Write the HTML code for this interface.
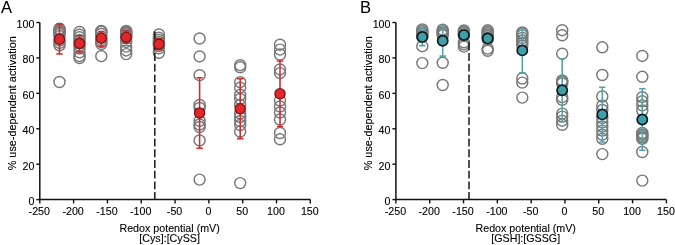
<!DOCTYPE html>
<html><head><meta charset="utf-8"><style>
html,body{margin:0;padding:0;background:#fff;}
svg{display:block;filter:blur(0.3px);}
text{font-family:"Liberation Sans",sans-serif;font-size:10px;fill:#000;stroke:#000;stroke-width:0.1px;}
</style></head><body>
<svg width="675" height="245" viewBox="0 0 675 245">
<rect width="675" height="245" fill="#fff"/>
<path d="M39.80,22.50V199.60H310.30" fill="none" stroke="#111" stroke-width="1.5"/>
<line x1="36.30" y1="199.60" x2="39.80" y2="199.60" stroke="#111" stroke-width="1.4"/>
<text transform="translate(34.40,205.00) scale(1.07,1)" text-anchor="end">0</text>
<line x1="36.30" y1="164.18" x2="39.80" y2="164.18" stroke="#111" stroke-width="1.4"/>
<text transform="translate(34.40,169.58) scale(1.07,1)" text-anchor="end">20</text>
<line x1="36.30" y1="128.76" x2="39.80" y2="128.76" stroke="#111" stroke-width="1.4"/>
<text transform="translate(34.40,134.16) scale(1.07,1)" text-anchor="end">40</text>
<line x1="36.30" y1="93.34" x2="39.80" y2="93.34" stroke="#111" stroke-width="1.4"/>
<text transform="translate(34.40,98.74) scale(1.07,1)" text-anchor="end">60</text>
<line x1="36.30" y1="57.92" x2="39.80" y2="57.92" stroke="#111" stroke-width="1.4"/>
<text transform="translate(34.40,63.32) scale(1.07,1)" text-anchor="end">80</text>
<line x1="36.30" y1="22.50" x2="39.80" y2="22.50" stroke="#111" stroke-width="1.4"/>
<text transform="translate(34.40,27.90) scale(1.07,1)" text-anchor="end">100</text>
<line x1="39.80" y1="199.60" x2="39.80" y2="203.40" stroke="#111" stroke-width="1.4"/>
<text transform="translate(39.30,214.70) scale(1.07,1)" text-anchor="middle">-250</text>
<line x1="73.61" y1="199.60" x2="73.61" y2="203.40" stroke="#111" stroke-width="1.4"/>
<text transform="translate(73.11,214.70) scale(1.07,1)" text-anchor="middle">-200</text>
<line x1="107.42" y1="199.60" x2="107.42" y2="203.40" stroke="#111" stroke-width="1.4"/>
<text transform="translate(106.92,214.70) scale(1.07,1)" text-anchor="middle">-150</text>
<line x1="141.24" y1="199.60" x2="141.24" y2="203.40" stroke="#111" stroke-width="1.4"/>
<text transform="translate(140.74,214.70) scale(1.07,1)" text-anchor="middle">-100</text>
<line x1="175.05" y1="199.60" x2="175.05" y2="203.40" stroke="#111" stroke-width="1.4"/>
<text transform="translate(174.55,214.70) scale(1.07,1)" text-anchor="middle">-50</text>
<line x1="208.86" y1="199.60" x2="208.86" y2="203.40" stroke="#111" stroke-width="1.4"/>
<text transform="translate(208.36,214.70) scale(1.07,1)" text-anchor="middle">0</text>
<line x1="242.68" y1="199.60" x2="242.68" y2="203.40" stroke="#111" stroke-width="1.4"/>
<text transform="translate(242.18,214.70) scale(1.07,1)" text-anchor="middle">50</text>
<line x1="276.49" y1="199.60" x2="276.49" y2="203.40" stroke="#111" stroke-width="1.4"/>
<text transform="translate(275.99,214.70) scale(1.07,1)" text-anchor="middle">100</text>
<line x1="310.30" y1="199.60" x2="310.30" y2="203.40" stroke="#111" stroke-width="1.4"/>
<text transform="translate(309.80,214.70) scale(1.07,1)" text-anchor="middle">150</text>
<circle cx="59.5" cy="28.7" r="5.5" fill="none" stroke="#787878" stroke-width="1.45"/>
<circle cx="59.5" cy="29.5" r="5.5" fill="none" stroke="#787878" stroke-width="1.45"/>
<circle cx="59.5" cy="30.4" r="5.5" fill="none" stroke="#787878" stroke-width="1.45"/>
<circle cx="59.5" cy="31.4" r="5.5" fill="none" stroke="#787878" stroke-width="1.45"/>
<circle cx="59.5" cy="32.6" r="5.5" fill="none" stroke="#787878" stroke-width="1.45"/>
<circle cx="59.5" cy="34" r="5.5" fill="none" stroke="#787878" stroke-width="1.45"/>
<circle cx="59.5" cy="36" r="5.5" fill="none" stroke="#787878" stroke-width="1.45"/>
<circle cx="59.5" cy="40.4" r="5.5" fill="none" stroke="#787878" stroke-width="1.45"/>
<circle cx="59.5" cy="42.9" r="5.5" fill="none" stroke="#787878" stroke-width="1.45"/>
<circle cx="59.5" cy="45.3" r="5.5" fill="none" stroke="#787878" stroke-width="1.45"/>
<circle cx="59.5" cy="82" r="5.5" fill="none" stroke="#787878" stroke-width="1.45"/>
<circle cx="79.5" cy="32" r="5.5" fill="none" stroke="#787878" stroke-width="1.45"/>
<circle cx="79.5" cy="34.7" r="5.5" fill="none" stroke="#787878" stroke-width="1.45"/>
<circle cx="79.5" cy="37.2" r="5.5" fill="none" stroke="#787878" stroke-width="1.45"/>
<circle cx="79.5" cy="40" r="5.5" fill="none" stroke="#787878" stroke-width="1.45"/>
<circle cx="79.5" cy="43" r="5.5" fill="none" stroke="#787878" stroke-width="1.45"/>
<circle cx="79.5" cy="45.5" r="5.5" fill="none" stroke="#787878" stroke-width="1.45"/>
<circle cx="79.5" cy="48.5" r="5.5" fill="none" stroke="#787878" stroke-width="1.45"/>
<circle cx="79.5" cy="52.3" r="5.5" fill="none" stroke="#787878" stroke-width="1.45"/>
<circle cx="79.5" cy="56" r="5.5" fill="none" stroke="#787878" stroke-width="1.45"/>
<circle cx="79.5" cy="58" r="5.5" fill="none" stroke="#787878" stroke-width="1.45"/>
<circle cx="101.3" cy="30.9" r="5.5" fill="none" stroke="#787878" stroke-width="1.45"/>
<circle cx="101.3" cy="31.8" r="5.5" fill="none" stroke="#787878" stroke-width="1.45"/>
<circle cx="101.3" cy="34" r="5.5" fill="none" stroke="#787878" stroke-width="1.45"/>
<circle cx="101.3" cy="37" r="5.5" fill="none" stroke="#787878" stroke-width="1.45"/>
<circle cx="101.3" cy="40" r="5.5" fill="none" stroke="#787878" stroke-width="1.45"/>
<circle cx="101.3" cy="42" r="5.5" fill="none" stroke="#787878" stroke-width="1.45"/>
<circle cx="101.3" cy="44" r="5.5" fill="none" stroke="#787878" stroke-width="1.45"/>
<circle cx="101.3" cy="56.2" r="5.5" fill="none" stroke="#787878" stroke-width="1.45"/>
<circle cx="126.2" cy="30.9" r="5.5" fill="none" stroke="#787878" stroke-width="1.45"/>
<circle cx="126.2" cy="31.6" r="5.5" fill="none" stroke="#787878" stroke-width="1.45"/>
<circle cx="126.2" cy="32.4" r="5.5" fill="none" stroke="#787878" stroke-width="1.45"/>
<circle cx="126.2" cy="33.3" r="5.5" fill="none" stroke="#787878" stroke-width="1.45"/>
<circle cx="126.2" cy="34.5" r="5.5" fill="none" stroke="#787878" stroke-width="1.45"/>
<circle cx="126.2" cy="36" r="5.5" fill="none" stroke="#787878" stroke-width="1.45"/>
<circle cx="126.2" cy="38" r="5.5" fill="none" stroke="#787878" stroke-width="1.45"/>
<circle cx="126.2" cy="41.9" r="5.5" fill="none" stroke="#787878" stroke-width="1.45"/>
<circle cx="126.2" cy="46.6" r="5.5" fill="none" stroke="#787878" stroke-width="1.45"/>
<circle cx="126.2" cy="50.4" r="5.5" fill="none" stroke="#787878" stroke-width="1.45"/>
<circle cx="126.2" cy="54.1" r="5.5" fill="none" stroke="#787878" stroke-width="1.45"/>
<circle cx="158.9" cy="34.5" r="5.5" fill="none" stroke="#787878" stroke-width="1.45"/>
<circle cx="158.9" cy="37.8" r="5.5" fill="none" stroke="#787878" stroke-width="1.45"/>
<circle cx="158.9" cy="40" r="5.5" fill="none" stroke="#787878" stroke-width="1.45"/>
<circle cx="158.9" cy="42" r="5.5" fill="none" stroke="#787878" stroke-width="1.45"/>
<circle cx="158.9" cy="44" r="5.5" fill="none" stroke="#787878" stroke-width="1.45"/>
<circle cx="158.9" cy="46" r="5.5" fill="none" stroke="#787878" stroke-width="1.45"/>
<circle cx="158.9" cy="48.3" r="5.5" fill="none" stroke="#787878" stroke-width="1.45"/>
<circle cx="158.9" cy="52.8" r="5.5" fill="none" stroke="#787878" stroke-width="1.45"/>
<circle cx="199.6" cy="38.5" r="5.5" fill="none" stroke="#787878" stroke-width="1.45"/>
<circle cx="199.6" cy="56.4" r="5.5" fill="none" stroke="#787878" stroke-width="1.45"/>
<circle cx="199.6" cy="75.2" r="5.5" fill="none" stroke="#787878" stroke-width="1.45"/>
<circle cx="199.6" cy="105" r="5.5" fill="none" stroke="#787878" stroke-width="1.45"/>
<circle cx="199.6" cy="108" r="5.5" fill="none" stroke="#787878" stroke-width="1.45"/>
<circle cx="199.6" cy="120.8" r="5.5" fill="none" stroke="#787878" stroke-width="1.45"/>
<circle cx="199.6" cy="124.5" r="5.5" fill="none" stroke="#787878" stroke-width="1.45"/>
<circle cx="199.6" cy="127" r="5.5" fill="none" stroke="#787878" stroke-width="1.45"/>
<circle cx="199.6" cy="140.4" r="5.5" fill="none" stroke="#787878" stroke-width="1.45"/>
<circle cx="199.6" cy="179.6" r="5.5" fill="none" stroke="#787878" stroke-width="1.45"/>
<circle cx="240.2" cy="65.2" r="5.5" fill="none" stroke="#787878" stroke-width="1.45"/>
<circle cx="240.2" cy="67.3" r="5.5" fill="none" stroke="#787878" stroke-width="1.45"/>
<circle cx="240.2" cy="82.2" r="5.5" fill="none" stroke="#787878" stroke-width="1.45"/>
<circle cx="240.2" cy="87.7" r="5.5" fill="none" stroke="#787878" stroke-width="1.45"/>
<circle cx="240.2" cy="94.8" r="5.5" fill="none" stroke="#787878" stroke-width="1.45"/>
<circle cx="240.2" cy="98.9" r="5.5" fill="none" stroke="#787878" stroke-width="1.45"/>
<circle cx="240.2" cy="105" r="5.5" fill="none" stroke="#787878" stroke-width="1.45"/>
<circle cx="240.2" cy="113.4" r="5.5" fill="none" stroke="#787878" stroke-width="1.45"/>
<circle cx="240.2" cy="117" r="5.5" fill="none" stroke="#787878" stroke-width="1.45"/>
<circle cx="240.2" cy="121" r="5.5" fill="none" stroke="#787878" stroke-width="1.45"/>
<circle cx="240.2" cy="125" r="5.5" fill="none" stroke="#787878" stroke-width="1.45"/>
<circle cx="240.2" cy="131.5" r="5.5" fill="none" stroke="#787878" stroke-width="1.45"/>
<circle cx="240.2" cy="183.1" r="5.5" fill="none" stroke="#787878" stroke-width="1.45"/>
<circle cx="280.0" cy="44.7" r="5.5" fill="none" stroke="#787878" stroke-width="1.45"/>
<circle cx="280.0" cy="49.6" r="5.5" fill="none" stroke="#787878" stroke-width="1.45"/>
<circle cx="280.0" cy="54.5" r="5.5" fill="none" stroke="#787878" stroke-width="1.45"/>
<circle cx="280.0" cy="69.4" r="5.5" fill="none" stroke="#787878" stroke-width="1.45"/>
<circle cx="280.0" cy="73.1" r="5.5" fill="none" stroke="#787878" stroke-width="1.45"/>
<circle cx="280.0" cy="100.5" r="5.5" fill="none" stroke="#787878" stroke-width="1.45"/>
<circle cx="280.0" cy="106.5" r="5.5" fill="none" stroke="#787878" stroke-width="1.45"/>
<circle cx="280.0" cy="112.5" r="5.5" fill="none" stroke="#787878" stroke-width="1.45"/>
<circle cx="280.0" cy="119.5" r="5.5" fill="none" stroke="#787878" stroke-width="1.45"/>
<circle cx="280.0" cy="133" r="5.5" fill="none" stroke="#787878" stroke-width="1.45"/>
<circle cx="280.0" cy="139.3" r="5.5" fill="none" stroke="#787878" stroke-width="1.45"/>
<line x1="154.80" y1="199.60" x2="154.80" y2="31.30" stroke="#1a1a1a" stroke-width="1.5" stroke-dasharray="7.9 2.8" stroke-dashoffset="0.4"/>
<path d="M59.5,24.0V53.9M56.3,24.0H62.7M56.3,53.9H62.7" stroke="#cf2a2a" stroke-width="1.55" fill="none"/>
<circle cx="59.5" cy="39.3" r="5.1" fill="#e3262b" stroke="#7a1414" stroke-width="1.3"/>
<path d="M79.5,35.8V52.0M76.3,35.8H82.7M76.3,52.0H82.7" stroke="#cf2a2a" stroke-width="1.55" fill="none"/>
<circle cx="79.5" cy="43.4" r="5.1" fill="#e3262b" stroke="#7a1414" stroke-width="1.3"/>
<path d="M101.3,31.6V46.5M98.1,31.6H104.5M98.1,46.5H104.5" stroke="#cf2a2a" stroke-width="1.55" fill="none"/>
<circle cx="101.3" cy="38.2" r="5.1" fill="#e3262b" stroke="#7a1414" stroke-width="1.3"/>
<path d="M126.2,31.0V43.3M123.0,31.0H129.4M123.0,43.3H129.4" stroke="#cf2a2a" stroke-width="1.55" fill="none"/>
<circle cx="126.2" cy="37.2" r="5.1" fill="#e3262b" stroke="#7a1414" stroke-width="1.3"/>
<path d="M158.9,38.5V49.7M155.70000000000002,38.5H162.1M155.70000000000002,49.7H162.1" stroke="#cf2a2a" stroke-width="1.55" fill="none"/>
<circle cx="158.9" cy="44.1" r="5.1" fill="#e3262b" stroke="#7a1414" stroke-width="1.3"/>
<path d="M199.6,77.8V148.3M196.4,77.8H202.79999999999998M196.4,148.3H202.79999999999998" stroke="#cf2a2a" stroke-width="1.55" fill="none"/>
<circle cx="199.6" cy="112.9" r="5.1" fill="#e3262b" stroke="#7a1414" stroke-width="1.3"/>
<path d="M240.2,78.8V138.6M237.0,78.8H243.39999999999998M237.0,138.6H243.39999999999998" stroke="#cf2a2a" stroke-width="1.55" fill="none"/>
<circle cx="240.2" cy="108.8" r="5.1" fill="#e3262b" stroke="#7a1414" stroke-width="1.3"/>
<path d="M280.0,61.0V126.4M276.8,61.0H283.2M276.8,126.4H283.2" stroke="#cf2a2a" stroke-width="1.55" fill="none"/>
<circle cx="280.0" cy="93.8" r="5.1" fill="#e3262b" stroke="#7a1414" stroke-width="1.3"/>
<text transform="translate(15.80,103.30) rotate(-90) scale(1.087,1)" text-anchor="middle">% use-dependent activation</text>
<text transform="translate(169.60,231.8) scale(1.07,1)" text-anchor="middle">Redox potential (mV)</text>
<text transform="translate(169.60,241.8) scale(1.07,1)" text-anchor="middle">[Cys]:[CySS]</text>
<text transform="translate(1.0,12.5) scale(1.0,1)" style="font-size:16.5px">A</text>
<path d="M395.90,22.50V199.60H666.40" fill="none" stroke="#111" stroke-width="1.5"/>
<line x1="392.40" y1="199.60" x2="395.90" y2="199.60" stroke="#111" stroke-width="1.4"/>
<text transform="translate(390.50,205.00) scale(1.07,1)" text-anchor="end">0</text>
<line x1="392.40" y1="164.18" x2="395.90" y2="164.18" stroke="#111" stroke-width="1.4"/>
<text transform="translate(390.50,169.58) scale(1.07,1)" text-anchor="end">20</text>
<line x1="392.40" y1="128.76" x2="395.90" y2="128.76" stroke="#111" stroke-width="1.4"/>
<text transform="translate(390.50,134.16) scale(1.07,1)" text-anchor="end">40</text>
<line x1="392.40" y1="93.34" x2="395.90" y2="93.34" stroke="#111" stroke-width="1.4"/>
<text transform="translate(390.50,98.74) scale(1.07,1)" text-anchor="end">60</text>
<line x1="392.40" y1="57.92" x2="395.90" y2="57.92" stroke="#111" stroke-width="1.4"/>
<text transform="translate(390.50,63.32) scale(1.07,1)" text-anchor="end">80</text>
<line x1="392.40" y1="22.50" x2="395.90" y2="22.50" stroke="#111" stroke-width="1.4"/>
<text transform="translate(390.50,27.90) scale(1.07,1)" text-anchor="end">100</text>
<line x1="395.90" y1="199.60" x2="395.90" y2="203.40" stroke="#111" stroke-width="1.4"/>
<text transform="translate(395.40,214.70) scale(1.07,1)" text-anchor="middle">-250</text>
<line x1="429.71" y1="199.60" x2="429.71" y2="203.40" stroke="#111" stroke-width="1.4"/>
<text transform="translate(429.21,214.70) scale(1.07,1)" text-anchor="middle">-200</text>
<line x1="463.52" y1="199.60" x2="463.52" y2="203.40" stroke="#111" stroke-width="1.4"/>
<text transform="translate(463.02,214.70) scale(1.07,1)" text-anchor="middle">-150</text>
<line x1="497.34" y1="199.60" x2="497.34" y2="203.40" stroke="#111" stroke-width="1.4"/>
<text transform="translate(496.84,214.70) scale(1.07,1)" text-anchor="middle">-100</text>
<line x1="531.15" y1="199.60" x2="531.15" y2="203.40" stroke="#111" stroke-width="1.4"/>
<text transform="translate(530.65,214.70) scale(1.07,1)" text-anchor="middle">-50</text>
<line x1="564.96" y1="199.60" x2="564.96" y2="203.40" stroke="#111" stroke-width="1.4"/>
<text transform="translate(564.46,214.70) scale(1.07,1)" text-anchor="middle">0</text>
<line x1="598.77" y1="199.60" x2="598.77" y2="203.40" stroke="#111" stroke-width="1.4"/>
<text transform="translate(598.27,214.70) scale(1.07,1)" text-anchor="middle">50</text>
<line x1="632.59" y1="199.60" x2="632.59" y2="203.40" stroke="#111" stroke-width="1.4"/>
<text transform="translate(632.09,214.70) scale(1.07,1)" text-anchor="middle">100</text>
<line x1="666.40" y1="199.60" x2="666.40" y2="203.40" stroke="#111" stroke-width="1.4"/>
<text transform="translate(665.90,214.70) scale(1.07,1)" text-anchor="middle">150</text>
<circle cx="422.3" cy="29.5" r="5.5" fill="none" stroke="#787878" stroke-width="1.45"/>
<circle cx="422.3" cy="31.0" r="5.5" fill="none" stroke="#787878" stroke-width="1.45"/>
<circle cx="422.3" cy="32.5" r="5.5" fill="none" stroke="#787878" stroke-width="1.45"/>
<circle cx="422.3" cy="34.0" r="5.5" fill="none" stroke="#787878" stroke-width="1.45"/>
<circle cx="422.3" cy="35.5" r="5.5" fill="none" stroke="#787878" stroke-width="1.45"/>
<circle cx="422.3" cy="37.0" r="5.5" fill="none" stroke="#787878" stroke-width="1.45"/>
<circle cx="422.3" cy="46.2" r="5.5" fill="none" stroke="#787878" stroke-width="1.45"/>
<circle cx="422.3" cy="63.1" r="5.5" fill="none" stroke="#787878" stroke-width="1.45"/>
<circle cx="442.7" cy="29.7" r="5.5" fill="none" stroke="#787878" stroke-width="1.45"/>
<circle cx="442.7" cy="31.1" r="5.5" fill="none" stroke="#787878" stroke-width="1.45"/>
<circle cx="442.7" cy="32.5" r="5.5" fill="none" stroke="#787878" stroke-width="1.45"/>
<circle cx="442.7" cy="33.9" r="5.5" fill="none" stroke="#787878" stroke-width="1.45"/>
<circle cx="442.7" cy="35.3" r="5.5" fill="none" stroke="#787878" stroke-width="1.45"/>
<circle cx="442.7" cy="62.8" r="5.5" fill="none" stroke="#787878" stroke-width="1.45"/>
<circle cx="442.7" cy="85.0" r="5.5" fill="none" stroke="#787878" stroke-width="1.45"/>
<circle cx="463.9" cy="30.4" r="5.5" fill="none" stroke="#787878" stroke-width="1.45"/>
<circle cx="463.9" cy="31.8" r="5.5" fill="none" stroke="#787878" stroke-width="1.45"/>
<circle cx="463.9" cy="33.2" r="5.5" fill="none" stroke="#787878" stroke-width="1.45"/>
<circle cx="463.9" cy="34.6" r="5.5" fill="none" stroke="#787878" stroke-width="1.45"/>
<circle cx="463.9" cy="36.0" r="5.5" fill="none" stroke="#787878" stroke-width="1.45"/>
<circle cx="463.9" cy="42.3" r="5.5" fill="none" stroke="#787878" stroke-width="1.45"/>
<circle cx="463.9" cy="44.3" r="5.5" fill="none" stroke="#787878" stroke-width="1.45"/>
<circle cx="463.9" cy="46.6" r="5.5" fill="none" stroke="#787878" stroke-width="1.45"/>
<circle cx="487.7" cy="30.3" r="5.5" fill="none" stroke="#787878" stroke-width="1.45"/>
<circle cx="487.7" cy="31.8" r="5.5" fill="none" stroke="#787878" stroke-width="1.45"/>
<circle cx="487.7" cy="33.3" r="5.5" fill="none" stroke="#787878" stroke-width="1.45"/>
<circle cx="487.7" cy="34.8" r="5.5" fill="none" stroke="#787878" stroke-width="1.45"/>
<circle cx="487.7" cy="36.3" r="5.5" fill="none" stroke="#787878" stroke-width="1.45"/>
<circle cx="487.7" cy="37.8" r="5.5" fill="none" stroke="#787878" stroke-width="1.45"/>
<circle cx="487.7" cy="39.3" r="5.5" fill="none" stroke="#787878" stroke-width="1.45"/>
<circle cx="487.7" cy="48.6" r="5.5" fill="none" stroke="#787878" stroke-width="1.45"/>
<circle cx="487.7" cy="50.8" r="5.5" fill="none" stroke="#787878" stroke-width="1.45"/>
<circle cx="522.3" cy="32.4" r="5.5" fill="none" stroke="#787878" stroke-width="1.45"/>
<circle cx="522.3" cy="33.4" r="5.5" fill="none" stroke="#787878" stroke-width="1.45"/>
<circle cx="522.3" cy="35.5" r="5.5" fill="none" stroke="#787878" stroke-width="1.45"/>
<circle cx="522.3" cy="38" r="5.5" fill="none" stroke="#787878" stroke-width="1.45"/>
<circle cx="522.3" cy="40.5" r="5.5" fill="none" stroke="#787878" stroke-width="1.45"/>
<circle cx="522.3" cy="43" r="5.5" fill="none" stroke="#787878" stroke-width="1.45"/>
<circle cx="522.3" cy="45.5" r="5.5" fill="none" stroke="#787878" stroke-width="1.45"/>
<circle cx="522.3" cy="78.5" r="5.5" fill="none" stroke="#787878" stroke-width="1.45"/>
<circle cx="522.3" cy="82.6" r="5.5" fill="none" stroke="#787878" stroke-width="1.45"/>
<circle cx="522.3" cy="97.6" r="5.5" fill="none" stroke="#787878" stroke-width="1.45"/>
<circle cx="562.2" cy="30.2" r="5.5" fill="none" stroke="#787878" stroke-width="1.45"/>
<circle cx="562.2" cy="35.3" r="5.5" fill="none" stroke="#787878" stroke-width="1.45"/>
<circle cx="562.2" cy="53.7" r="5.5" fill="none" stroke="#787878" stroke-width="1.45"/>
<circle cx="562.2" cy="80.4" r="5.5" fill="none" stroke="#787878" stroke-width="1.45"/>
<circle cx="562.2" cy="82" r="5.5" fill="none" stroke="#787878" stroke-width="1.45"/>
<circle cx="562.2" cy="83.5" r="5.5" fill="none" stroke="#787878" stroke-width="1.45"/>
<circle cx="562.2" cy="97.2" r="5.5" fill="none" stroke="#787878" stroke-width="1.45"/>
<circle cx="562.2" cy="99.8" r="5.5" fill="none" stroke="#787878" stroke-width="1.45"/>
<circle cx="562.2" cy="113.6" r="5.5" fill="none" stroke="#787878" stroke-width="1.45"/>
<circle cx="562.2" cy="116.6" r="5.5" fill="none" stroke="#787878" stroke-width="1.45"/>
<circle cx="562.2" cy="120.7" r="5.5" fill="none" stroke="#787878" stroke-width="1.45"/>
<circle cx="562.2" cy="124.8" r="5.5" fill="none" stroke="#787878" stroke-width="1.45"/>
<circle cx="602.3" cy="47.3" r="5.5" fill="none" stroke="#787878" stroke-width="1.45"/>
<circle cx="602.3" cy="75" r="5.5" fill="none" stroke="#787878" stroke-width="1.45"/>
<circle cx="602.3" cy="96.5" r="5.5" fill="none" stroke="#787878" stroke-width="1.45"/>
<circle cx="602.3" cy="105.7" r="5.5" fill="none" stroke="#787878" stroke-width="1.45"/>
<circle cx="602.3" cy="110" r="5.5" fill="none" stroke="#787878" stroke-width="1.45"/>
<circle cx="602.3" cy="118" r="5.5" fill="none" stroke="#787878" stroke-width="1.45"/>
<circle cx="602.3" cy="122.4" r="5.5" fill="none" stroke="#787878" stroke-width="1.45"/>
<circle cx="602.3" cy="126.5" r="5.5" fill="none" stroke="#787878" stroke-width="1.45"/>
<circle cx="602.3" cy="130.6" r="5.5" fill="none" stroke="#787878" stroke-width="1.45"/>
<circle cx="602.3" cy="134.7" r="5.5" fill="none" stroke="#787878" stroke-width="1.45"/>
<circle cx="602.3" cy="138.8" r="5.5" fill="none" stroke="#787878" stroke-width="1.45"/>
<circle cx="602.3" cy="154.1" r="5.5" fill="none" stroke="#787878" stroke-width="1.45"/>
<circle cx="642.3" cy="55.9" r="5.5" fill="none" stroke="#787878" stroke-width="1.45"/>
<circle cx="642.3" cy="76.8" r="5.5" fill="none" stroke="#787878" stroke-width="1.45"/>
<circle cx="642.3" cy="97.2" r="5.5" fill="none" stroke="#787878" stroke-width="1.45"/>
<circle cx="642.3" cy="101.3" r="5.5" fill="none" stroke="#787878" stroke-width="1.45"/>
<circle cx="642.3" cy="105.4" r="5.5" fill="none" stroke="#787878" stroke-width="1.45"/>
<circle cx="642.3" cy="110.5" r="5.5" fill="none" stroke="#787878" stroke-width="1.45"/>
<circle cx="642.3" cy="132.9" r="5.5" fill="none" stroke="#787878" stroke-width="1.45"/>
<circle cx="642.3" cy="134.4" r="5.5" fill="none" stroke="#787878" stroke-width="1.45"/>
<circle cx="642.3" cy="136" r="5.5" fill="none" stroke="#787878" stroke-width="1.45"/>
<circle cx="642.3" cy="137.5" r="5.5" fill="none" stroke="#787878" stroke-width="1.45"/>
<circle cx="642.3" cy="138.8" r="5.5" fill="none" stroke="#787878" stroke-width="1.45"/>
<circle cx="642.3" cy="152" r="5.5" fill="none" stroke="#787878" stroke-width="1.45"/>
<circle cx="642.3" cy="180.6" r="5.5" fill="none" stroke="#787878" stroke-width="1.45"/>
<line x1="469.00" y1="199.60" x2="469.00" y2="41.00" stroke="#1a1a1a" stroke-width="1.5" stroke-dasharray="7.9 2.8" stroke-dashoffset="0.4"/>
<path d="M422.3,28.4V45.6M419.1,28.4H425.5M419.1,45.6H425.5" stroke="#55a2ab" stroke-width="1.55" fill="none"/>
<circle cx="422.3" cy="36.9" r="5.1" fill="#3e9fa9" stroke="#0c1a1c" stroke-width="1.7"/>
<path d="M442.7,25.3V56.1M439.5,25.3H445.9M439.5,56.1H445.9" stroke="#55a2ab" stroke-width="1.55" fill="none"/>
<circle cx="442.7" cy="40.7" r="5.1" fill="#3e9fa9" stroke="#0c1a1c" stroke-width="1.7"/>
<path d="M463.9,32V38M460.7,32H467.09999999999997M460.7,38H467.09999999999997" stroke="#55a2ab" stroke-width="1.55" fill="none"/>
<circle cx="463.9" cy="35.1" r="5.1" fill="#3e9fa9" stroke="#0c1a1c" stroke-width="1.7"/>
<path d="M487.7,34V43M484.5,34H490.9M484.5,43H490.9" stroke="#55a2ab" stroke-width="1.55" fill="none"/>
<circle cx="487.7" cy="38.4" r="5.1" fill="#3e9fa9" stroke="#0c1a1c" stroke-width="1.7"/>
<path d="M522.3,30.2V72.8M519.0999999999999,30.2H525.5M519.0999999999999,72.8H525.5" stroke="#55a2ab" stroke-width="1.55" fill="none"/>
<circle cx="522.3" cy="50.4" r="5.1" fill="#3e9fa9" stroke="#0c1a1c" stroke-width="1.7"/>
<path d="M562.2,58.8V121.7M559.0,58.8H565.4000000000001M559.0,121.7H565.4000000000001" stroke="#55a2ab" stroke-width="1.55" fill="none"/>
<circle cx="562.2" cy="90.2" r="5.1" fill="#3e9fa9" stroke="#0c1a1c" stroke-width="1.7"/>
<path d="M602.3,87.3V142M599.0999999999999,87.3H605.5M599.0999999999999,142H605.5" stroke="#55a2ab" stroke-width="1.55" fill="none"/>
<circle cx="602.3" cy="114.4" r="5.1" fill="#3e9fa9" stroke="#0c1a1c" stroke-width="1.7"/>
<path d="M642.3,88.7V150.3M639.0999999999999,88.7H645.5M639.0999999999999,150.3H645.5" stroke="#55a2ab" stroke-width="1.55" fill="none"/>
<circle cx="642.3" cy="119.5" r="5.1" fill="#3e9fa9" stroke="#0c1a1c" stroke-width="1.7"/>
<text transform="translate(372.00,103.30) rotate(-90) scale(1.087,1)" text-anchor="middle">% use-dependent activation</text>
<text transform="translate(525.70,231.8) scale(1.07,1)" text-anchor="middle">Redox potential (mV)</text>
<text transform="translate(525.70,241.8) scale(1.07,1)" text-anchor="middle">[GSH]:[GSSG]</text>
<text transform="translate(360.0,12.5) scale(1.0,1)" style="font-size:16.5px">B</text>
</svg>
</body></html>
